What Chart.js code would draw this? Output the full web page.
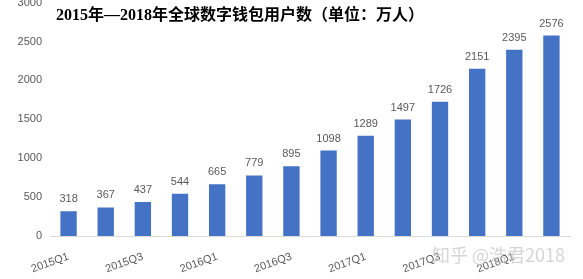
<!DOCTYPE html>
<html>
<head>
<meta charset="utf-8">
<script src="https://cdn.jsdelivr.net/npm/chart.js@4/dist/chart.umd.min.js"></script>
<style>
  html, body { margin: 0; padding: 0; background: #fff; }
  #wrap { position: relative; width: 583px; height: 279px; overflow: hidden; }
  #chartMain { position: absolute; left: 0; top: -12px; }
</style>
</head>
<body>
<div id="wrap"><canvas id="chartMain" width="583" height="291"></canvas></div>
<script>
const categories = [
  '2015Q1', '2015Q2', '2015Q3', '2015Q4',
  '2016Q1', '2016Q2', '2016Q3', '2016Q4',
  '2017Q1', '2017Q2', '2017Q3', '2017Q4',
  '2018Q1', '2018Q2'
];
const users = [318, 367, 437, 544, 665, 779, 895, 1098, 1289, 1497, 1726, 2151, 2395, 2576];
const yTicks = [0, 500, 1000, 1500, 2000, 2500, 3000];

const titleText = '2015年—2018年全球数字钱包用户数（单位：万人）';
const watermark = '知乎 @浩君2018';

const barColor = 'rgb(68, 114, 196)';
const textGray = '#595959';
const shiftY = 12; // canvas is moved up by this much so 3000 gets clipped like the original

// labels over bars + title + watermark
const extras = {
  id: 'extras',
  afterDatasetsDraw: chart => {
    const ctx = chart.ctx;
    ctx.save();
    ctx.font = '11px "Liberation Sans", Arial, sans-serif';
    ctx.fillStyle = textGray;
    ctx.textAlign = 'center';
    ctx.textBaseline = 'alphabetic';
    chart.getDatasetMeta(0).data.forEach((bar, i) => {
      ctx.fillText(String(users[i]), bar.x, bar.y - 9);
    });

    ctx.font = 'bold 16px "Liberation Serif", "Noto Sans CJK SC", serif';
    ctx.fillStyle = '#000';
    ctx.textAlign = 'left';
    ctx.textBaseline = 'middle';
    ctx.fillText(titleText, 56, 16 + shiftY);

    ctx.font = '18px "Noto Sans CJK SC", sans-serif';
    ctx.fillStyle = 'rgba(200, 200, 200, 0.75)';
    ctx.fillText(watermark, 432, 255 + shiftY);
    ctx.restore();
  }
};

new Chart(document.getElementById('chartMain'), {
  type: 'bar',
  data: {
    labels: categories,
    datasets: [{
      data: users,
      backgroundColor: barColor,
      barPercentage: 0.44,
      categoryPercentage: 1
    }]
  },
  options: {
    responsive: false,
    animation: false,
    layout: { padding: { top: 0, right: 13, left: 0, bottom: 0 } },
    plugins: { legend: { display: false }, tooltip: { enabled: false } },
    scales: {
      x: {
        grid: { display: false, drawTicks: false },
        border: { color: '#d9d9d9', width: 1 },
        afterFit: scale => { scale.height = 43; },
        ticks: {
          color: textGray,
          font: { family: '"Liberation Sans", Arial, sans-serif', size: 11 },
          minRotation: 20,
          maxRotation: 20,
          autoSkip: false,
          padding: 14,
          callback: (v, i) => (i % 2 === 0 ? categories[i] : '')
        }
      },
      y: {
        min: 0,
        max: 3000,
        afterBuildTicks: scale => { scale.ticks = yTicks.map(v => ({ value: v })); },
        afterFit: scale => { scale.width = 50; },
        grid: { display: false, drawTicks: false },
        border: { display: false },
        ticks: {
          color: textGray,
          font: { family: '"Liberation Sans", Arial, sans-serif', size: 11 },
          padding: 8,
          callback: v => String(v)
        }
      }
    }
  },
  plugins: [extras]
});
</script>
</body>
</html>
